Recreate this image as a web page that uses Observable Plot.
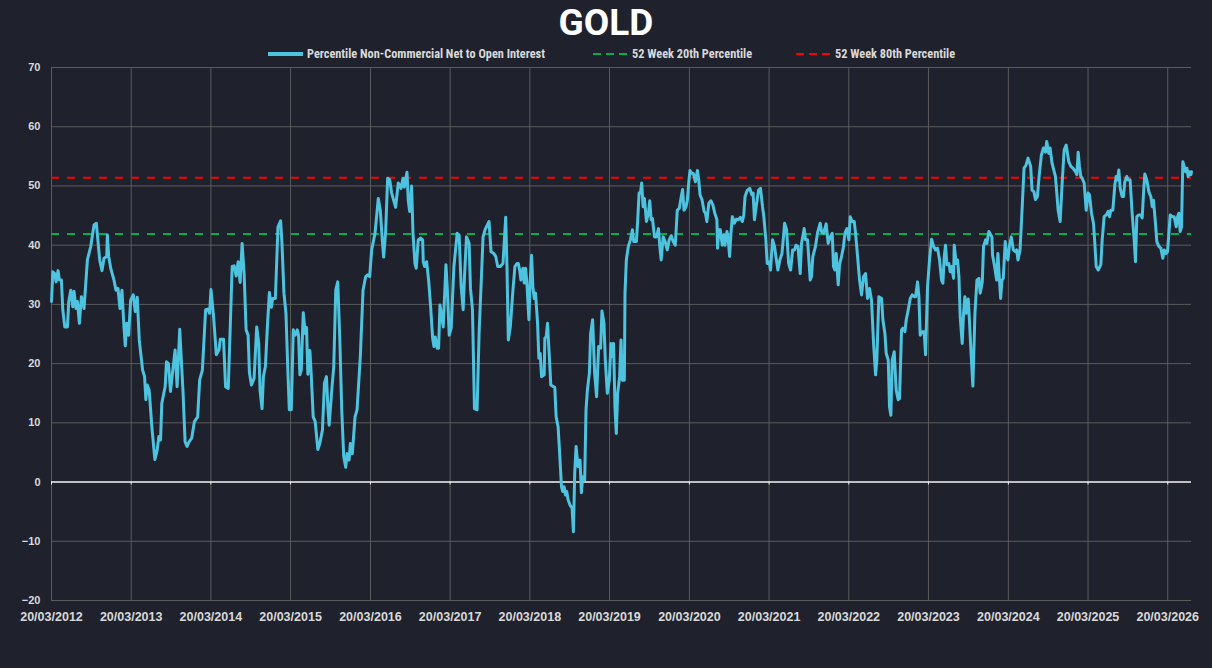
<!DOCTYPE html>
<html>
<head>
<meta charset="utf-8">
<script src="https://cdn.jsdelivr.net/npm/d3@7"></script>
<script src="https://cdn.jsdelivr.net/npm/@observablehq/plot@0.6"></script>
<style>
html,body{margin:0;padding:0;background:#1f222d;}
#wrap{width:1212px;height:668px;position:relative;overflow:hidden;background:#1f222d;}
#title{height:44px;line-height:46px;text-align:center;color:#ffffff;font-family:Roboto,"Liberation Sans",sans-serif;font-weight:bold;font-size:37px;}
#legend{position:relative;height:20px;z-index:2;}
.item{position:absolute;top:0;height:20px;display:flex;align-items:center;color:#d9d9d9;font-family:"Liberation Sans Narrow","Roboto Condensed",Roboto,sans-serif;font-weight:bold;font-size:12.3px;white-space:nowrap;}
.item svg{margin-right:4px;display:block;}
#chart{margin-top:-7px;}
#chart svg{display:block;}
</style>
</head>
<body>
<div id="wrap">
  <div id="title">GOLD</div>
  <div id="legend"></div>
  <div id="chart"></div>
</div>
<script>
// ---- data (decimal year, percentile value) ----
const seriesName = "Percentile Non-Commercial Net to Open Interest";
const p20Name = "52 Week 20th Percentile";
const p80Name = "52 Week 80th Percentile";
const p20Level = [41.9];
const p80Level = [51.4];
const yTicks = [-20, -10, 0, 10, 20, 30, 40, 50, 60, 70];
const tickYears = [2012,2013,2014,2015,2016,2017,2018,2019,2020,2021,2022,2023,2024,2025,2026];

const yearsA = [
2012.216,2012.232,2012.257,2012.273,2012.298,2012.315,2012.340,2012.357,2012.382,2012.415,
2012.432,2012.457,2012.482,2012.498,2012.523,2012.540,2012.565,2012.590,2012.623,2012.665,
2012.707,2012.748,2012.777,2012.819,2012.848,2012.873,2012.907,2012.915,2012.932,2012.957,
2012.998,2013.023,2013.048,2013.073,2013.098,2013.123,2013.140,2013.157,2013.182,2013.207,
2013.240,2013.265,2013.290,2013.315,2013.357,2013.382,2013.398,2013.415,2013.440,2013.473,
2013.511,2013.540,2013.561,2013.582,2013.598,2013.640,2013.657,2013.682,2013.707,2013.732,
2013.765,2013.790,2013.823,2013.865,2013.890,2013.915,2013.940,2013.973,2014.007,2014.048,
2014.073,2014.107,2014.148,2014.173,2014.198,2014.215,2014.248,2014.282,2014.315,2014.332,
2014.373,2014.398,2014.432];
const valsA = [
30.5,35.5,35.2,33.8,35.7,34.1,34.1,29.1,26.2,26.2,
30.5,32.4,29.6,32.2,29.3,30.5,26.8,31.3,29.3,37.5,
39.8,43.4,43.7,37.5,35.7,37.8,38.1,41.7,38.1,36.1,
34.1,32.4,32.7,29.3,32.4,26.2,23.0,26.8,24.8,30.7,
31.6,28.8,31.2,24.0,18.9,17.8,13.9,16.4,15.5,9.3,
3.8,5.4,7.7,7.1,13.3,16.1,20.3,20.0,15.3,18.4,
22.3,16.1,25.8,15.0,6.8,6.0,6.8,7.4,10.2,11.0,
17.2,18.9,29.1,29.2,28.5,32.5,27.9,21.5,22.3,24.1,
24.1,16.1,15.8];

const yearsB = [
2014.481,2014.506,2014.531,2014.556,2014.581,2014.606,2014.631,2014.656,2014.681,2014.698,
2014.723,2014.756,2014.789,2014.814,2014.831,2014.856,2014.873,2014.898,2014.923,2014.948,
2014.973,2014.989,2015.023,2015.056,2015.089,2015.106,2015.131,2015.156,2015.181,2015.198,
2015.223,2015.248,2015.273,2015.298,2015.314,2015.331,2015.348,2015.373,2015.398,2015.414,
2015.431,2015.456,2015.473,2015.498,2015.523,2015.556,2015.581,2015.614,2015.639,2015.664,
2015.681,2015.698,2015.731,2015.756,2015.781,2015.806,2015.831,2015.856,2015.881,2015.906,
2015.923,2015.948,2015.964,2015.989,2016.023,2016.048,2016.089,2016.123,2016.156,2016.181,
2016.206,2016.231,2016.273,2016.314,2016.339,2016.364,2016.381,2016.406,2016.431,2016.456,
2016.481,2016.506,2016.531,2016.564,2016.598,2016.623,2016.639,2016.673,2016.689,2016.706,
2016.731,2016.748,2016.773,2016.789,2016.814];
const valsB = [
36.4,36.5,34.8,37.2,33.7,40.3,35.2,25.7,24.8,18.4,
16.4,17.5,26.2,23.4,15.5,12.4,17.8,19.5,26.2,32.0,
29.5,31.0,31.0,43.1,44.1,40.3,31.9,28.5,18.4,12.2,
12.2,25.7,24.8,25.7,24.8,18.1,18.9,28.6,25.1,26.1,
18.2,22.2,18.2,11.0,10.2,5.5,6.5,8.8,16.7,17.8,
13.0,9.6,15.5,19.5,32.4,33.8,24.5,12.2,4.3,2.5,
4.8,3.7,6.5,4.8,11.0,12.2,21.2,32.4,34.7,35.0,
34.7,39.2,42.0,47.9,45.9,40.9,38.0,42.3,51.3,51.1,
48.8,47.6,46.4,50.5,49.6,51.3,49.8,52.3,47.6,45.7,
50.0,42.0,36.9,36.1,40.9];

const yearsC = [
2016.844,2016.869,2016.877,2016.894,2016.919,2016.944,2016.969,2016.994,2017.011,2017.027,
2017.052,2017.069,2017.086,2017.102,2017.127,2017.161,2017.177,2017.202,2017.227,2017.261,
2017.302,2017.327,2017.352,2017.377,2017.394,2017.419,2017.452,2017.469,2017.494,2017.519,
2017.552,2017.577,2017.611,2017.627,2017.652,2017.702,2017.727,2017.761,2017.786,2017.811,
2017.844,2017.877,2017.911,2017.927,2017.944,2017.969,2018.002,2018.027,2018.052,2018.069,
2018.086,2018.102,2018.127,2018.144,2018.161,2018.177,2018.202,2018.219,2018.236,2018.252,
2018.269,2018.286,2018.311,2018.327,2018.344,2018.361,2018.394,2018.402,2018.419,2018.436,
2018.461,2018.477,2018.511,2018.527,2018.544,2018.569,2018.586,2018.611,2018.627,2018.644,
2018.661,2018.677,2018.694,2018.719,2018.744,2018.761,2018.777,2018.794,2018.819,2018.844,
2018.861,2018.877,2018.902,2018.919,2018.936,2018.961,2018.977,2019.002,2019.027,2019.052,
2019.077,2019.102,2019.119,2019.144,2019.161,2019.186,2019.211];
const valsC = [
41.2,40.9,37.2,36.4,37.2,34.1,29.6,24.3,22.9,24.5,
22.6,22.6,29.9,28.5,26.2,36.7,33.0,24.8,26.0,36.4,
42.0,41.7,33.0,29.1,34.7,41.4,40.3,32.7,29.1,12.4,
12.2,25.1,36.1,41.4,42.6,44.0,38.9,38.6,38.1,36.4,
36.4,36.9,44.7,36.4,24.0,26.2,32.4,36.4,36.9,36.9,
35.8,34.1,36.1,33.6,36.1,33.6,27.4,34.1,38.3,33.0,
31.0,31.9,26.8,20.9,21.7,17.8,18.1,24.3,24.5,26.8,
20.6,16.4,16.1,16.0,11.0,9.3,5.4,-0.8,-1.6,-0.8,
-2.2,-1.6,-3.0,-3.9,-4.4,-8.4,1.5,6.0,2.6,3.7,
-1.8,0.9,0.3,12.2,15.5,18.4,25.1,27.4,18.4,14.4,
22.9,22.6,28.9,26.8,20.6,15.0,17.2];

const yearsD = [
2019.232,2019.249,2019.265,2019.282,2019.299,2019.316,2019.341,2019.358,2019.375,2019.400,
2019.408,2019.425,2019.450,2019.476,2019.501,2019.518,2019.551,2019.568,2019.585,2019.602,
2019.618,2019.635,2019.652,2019.677,2019.702,2019.719,2019.736,2019.753,2019.778,2019.803,
2019.828,2019.845,2019.862,2019.887,2019.912,2019.938,2019.963,2019.988,2020.013,2020.039,
2020.064,2020.089,2020.114,2020.131,2020.148,2020.173,2020.190,2020.207,2020.223,2020.249,
2020.265,2020.291,2020.316,2020.333,2020.349,2020.375,2020.400,2020.417,2020.434,2020.459,
2020.484,2020.509,2020.534,2020.560,2020.568,2020.585,2020.602,2020.627,2020.644,2020.660,
2020.686,2020.702,2020.719,2020.736,2020.753,2020.778,2020.803,2020.828,2020.854,2020.879,
2020.896,2020.912,2020.938,2020.971,2020.997,2021.013,2021.030,2021.055,2021.081,2021.106,
2021.131,2021.148,2021.173,2021.190,2021.215,2021.232,2021.257,2021.282,2021.299,2021.324,
2021.349,2021.375,2021.391,2021.408,2021.433,2021.459,2021.484,2021.509,2021.534,2021.551,
2021.576];
const valsD = [
23.4,21.2,23.4,12.7,8.2,15.0,17.8,24.0,17.2,17.2,
31.9,37.5,39.8,40.9,42.6,40.6,40.6,44.3,48.8,48.8,
50.5,46.5,47.9,44.0,45.4,47.5,44.3,44.5,41.4,41.4,
42.8,39.8,37.5,41.4,40.6,39.2,40.9,41.6,40.6,40.0,
45.9,46.2,48.2,49.4,45.9,46.5,47.6,50.5,52.6,52.1,
52.1,50.7,52.6,51.0,48.5,47.6,45.7,45.4,44.0,47.1,
47.5,46.8,45.4,44.3,39.5,42.6,42.6,40.0,41.7,40.0,
42.3,40.9,38.1,42.0,44.8,43.7,44.4,44.3,44.7,44.0,
45.1,48.2,49.2,49.6,48.5,48.8,44.3,46.8,49.3,49.6,
46.5,44.8,40.9,36.9,37.2,35.8,40.9,39.8,38.1,35.8,
37.5,38.6,40.9,43.7,42.6,36.9,35.8,39.2,39.2,40.0,
39.8];

const yearsE = [
2021.604,2021.621,2021.654,2021.671,2021.696,2021.730,2021.746,2021.763,2021.796,2021.822,
2021.855,2021.872,2021.897,2021.930,2021.955,2021.981,2022.006,2022.022,2022.039,2022.056,
2022.081,2022.098,2022.123,2022.148,2022.165,2022.190,2022.215,2022.232,2022.257,2022.282,
2022.299,2022.324,2022.349,2022.374,2022.399,2022.424,2022.449,2022.474,2022.499,2022.525,
2022.550,2022.566,2022.591,2022.625,2022.642,2022.667,2022.684,2022.709,2022.725,2022.742,
2022.759,2022.784,2022.809,2022.834,2022.851,2022.876,2022.893,2022.918,2022.935,2022.960,
2022.985,2023.010,2023.035,2023.052,2023.077,2023.094,2023.110,2023.135,2023.160,2023.177,
2023.202,2023.227,2023.253,2023.278,2023.303,2023.328,2023.353,2023.378,2023.395,2023.412,
2023.428,2023.445,2023.470,2023.487,2023.504,2023.529,2023.537,2023.562,2023.579,2023.596,
2023.612,2023.637,2023.654,2023.671,2023.688,2023.713,2023.730,2023.746,2023.771,2023.797,
2023.822,2023.847,2023.863,2023.889,2023.905,2023.930,2023.947,2023.972];
const valsE = [
35.2,40.3,42.8,40.9,40.9,34.1,34.7,38.1,39.8,42.1,
43.7,42.3,42.0,43.6,40.3,41.4,42.0,36.4,35.8,38.6,
33.3,36.7,38.1,39.8,42.0,42.8,40.9,44.8,44.0,44.0,
42.0,38.1,34.1,31.6,34.7,35.2,31.0,32.7,30.7,23.4,
18.1,20.6,31.3,31.0,27.4,25.1,21.7,20.6,12.7,11.3,
20.6,22.0,15.5,13.9,14.1,25.7,26.0,25.4,27.4,29.1,
31.0,31.6,31.3,31.3,33.8,31.3,24.8,25.4,25.4,21.5,
33.0,37.5,41.0,39.8,39.2,39.5,37.5,34.1,33.6,38.1,
40.0,36.7,36.9,35.5,36.4,34.4,40.0,36.9,37.5,34.7,
27.9,23.4,28.5,31.3,28.5,30.9,26.8,22.3,16.2,28.5,
34.1,34.4,31.9,33.8,39.8,40.9,40.3,42.3];

const yearsF = [
2024.010,2024.018,2024.044,2024.069,2024.085,2024.102,2024.119,2024.136,2024.152,2024.177,
2024.194,2024.211,2024.228,2024.253,2024.278,2024.303,2024.320,2024.336,2024.362,2024.387,
2024.412,2024.437,2024.462,2024.495,2024.512,2024.537,2024.554,2024.579,2024.604,2024.629,
2024.654,2024.680,2024.696,2024.721,2024.738,2024.763,2024.805,2024.839,2024.864,2024.889,
2024.914,2024.939,2024.972,2024.998,2025.023,2025.056,2025.073,2025.090,2025.106,2025.123,
2025.140,2025.165,2025.190,2025.215,2025.232,2025.257,2025.282,2025.299,2025.316,2025.341,
2025.374,2025.391,2025.416,2025.441,2025.466,2025.483,2025.500,2025.525,2025.550,2025.567,
2025.583,2025.600,2025.617,2025.642,2025.659,2025.675,2025.700,2025.717,2025.742,2025.767,
2025.793,2025.809,2025.826,2025.851,2025.876,2025.893,2025.910,2025.926,2025.951,2025.977,
2026.002,2026.019,2026.035,2026.060,2026.077,2026.102,2026.127,2026.152,2026.169,2026.194,
2026.211,2026.228,2026.245,2026.270,2026.295,2026.320,2026.337,2026.353,2026.370,2026.387,
2026.403,2026.420,2026.437,2026.454,2026.470,2026.487,2026.504,2026.512];
const valsF = [
41.4,38.3,36.4,34.1,38.6,34.7,31.0,34.1,34.4,40.6,
38.1,37.5,39.8,41.4,39.2,38.9,39.2,37.5,39.2,45.9,
53.0,53.5,54.7,53.3,49.3,49.0,47.7,48.2,52.1,55.2,
56.4,55.7,57.5,55.5,56.4,53.8,51.6,45.9,44.0,50.5,
56.1,56.9,54.1,53.3,53.0,52.4,51.9,55.7,53.3,51.6,
51.3,50.5,45.9,48.8,48.5,45.4,43.7,40.3,36.4,35.8,
36.7,40.9,44.8,45.1,45.7,44.8,45.9,45.9,50.2,51.6,
51.0,52.7,49.6,48.2,48.2,50.7,51.6,51.0,51.0,45.4,
40.9,37.2,44.8,45.1,45.1,44.6,48.8,52.0,51.0,49.0,
48.2,46.5,47.6,43.7,40.6,39.8,39.5,37.8,39.2,38.6,
38.9,42.0,45.1,44.8,44.8,43.1,44.8,45.4,42.3,43.1,
54.1,53.3,52.4,53.0,51.6,52.4,51.9,52.4];

// ---- build table ----
function yearToDate(y) {
  const Y = Math.floor(y);
  const a = Date.UTC(Y, 0, 1), b = Date.UTC(Y + 1, 0, 1);
  return new Date(a + (y - Y) * (b - a));
}
const segments = [[yearsA, valsA], [yearsB, valsB], [yearsC, valsC], [yearsD, valsD], [yearsE, valsE], [yearsF, valsF]];
const series = [];
segments.forEach(([ys, vs], i) => {
  if (ys.length !== vs.length) throw new Error("segment " + i + " length mismatch " + ys.length + " vs " + vs.length);
  ys.forEach((y, j) => series.push({date: yearToDate(y), value: vs[j]}));
});
const tickDates = tickYears.map(y => new Date(Date.UTC(y, 2, 20)));
const xDomain = [tickDates[0], series[series.length - 1].date];

// ---- legend ----
const legend = document.getElementById("legend");
const legendItems = [
  {left: 268, name: seriesName, color: "#4ec3df", dash: null, w: 4},
  {left: 593, name: p20Name, color: "#00b050", dash: "8,5", w: 2},
  {left: 796, name: p80Name, color: "#ff0000", dash: "8,5", w: 2}
];
legendItems.forEach(it => {
  const d = document.createElement("div");
  d.className = "item";
  d.style.left = it.left + "px";
  d.innerHTML = `<svg width="35" height="8"><line x1="0" x2="35" y1="4" y2="4" stroke="${it.color}" stroke-width="${it.w}" ${it.dash ? `stroke-dasharray="${it.dash}"` : ""}/></svg><span>${it.name}</span>`;
  legend.appendChild(d);
});

// ---- chart ----
const gridColor = "#5b5b5b";
const chart = Plot.plot({
  width: 1212,
  height: 583,
  marginTop: 10,
  marginLeft: 51,
  marginRight: 21,
  marginBottom: 40,
  style: {background: "transparent", color: "#d9d9d9", fontFamily: "'Liberation Sans', Arial, sans-serif", fontWeight: "bold", fontSize: "11px"},
  x: {type: "utc", domain: xDomain},
  y: {domain: [-20, 70]},
  marks: [
    Plot.gridY(yTicks, {stroke: gridColor, strokeOpacity: 1, strokeWidth: 1}),
    Plot.gridX(tickDates, {stroke: gridColor, strokeOpacity: 1, strokeWidth: 1}),
    Plot.ruleY([0], {stroke: "#ececec", strokeWidth: 1.5}),
    Plot.ruleX(tickDates, {y1: 0, y2: -0.5, stroke: "#ececec", strokeWidth: 1}),
    Plot.ruleY(p20Level, {stroke: "#00b050", strokeWidth: 2, strokeDasharray: "8,8"}),
    Plot.ruleY(p80Level, {stroke: "#ff0000", strokeWidth: 2, strokeDasharray: "8,8"}),
    Plot.line(series, {x: "date", y: "value", stroke: "#4ec3df", strokeWidth: 3, strokeLinejoin: "round"}),
    Plot.axisX(tickDates, {tickFormat: d3.utcFormat("%d/%m/%Y"), tickSize: 0, tickPadding: 12, fontSize: 12.5, label: null, fill: "#d9d9d9"}),
    Plot.axisY(yTicks, {tickSize: 0, tickPadding: 11, fontSize: 11, label: null, fill: "#d9d9d9"})
  ]
});
document.getElementById("chart").appendChild(chart);
</script>
</body>
</html>
